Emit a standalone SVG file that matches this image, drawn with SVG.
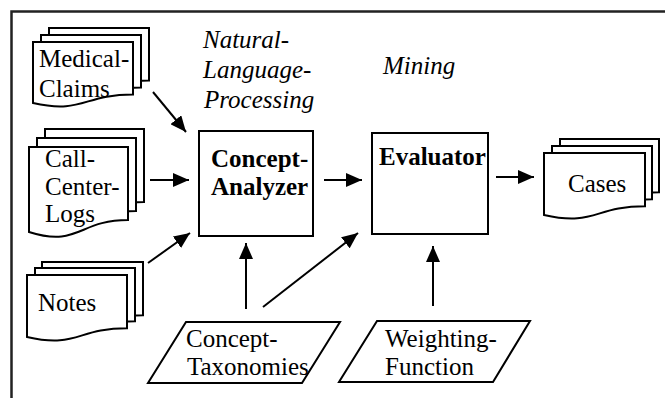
<svg xmlns="http://www.w3.org/2000/svg" width="665" height="398" viewBox="0 0 665 398">
<style>
.frame{fill:none;stroke:#222;stroke-width:2.5}
.shape{fill:#fff;stroke:#000;stroke-width:2}
.conn{fill:none;stroke:#000;stroke-width:2}
text{font-size:25px;fill:#000}
.b{font-weight:bold}
.i{font-style:italic}
</style>
<defs>
<marker id="ah" viewBox="0 0 16 14" refX="16" refY="7" markerWidth="16" markerHeight="14" markerUnits="userSpaceOnUse" orient="auto">
<path d="M0,0 L16,7 L0,14 Z" fill="#000"/>
</marker>
</defs>
<rect width="665" height="398" fill="#fff"/>
<path class="frame" d="M11.5,398 V11.5 H665"/>

<g font-family="'Liberation Serif', 'DejaVu Serif', serif">
<g id="medical-claims">
<path class="shape" d="M49,28 H149 V80.4 C99,80.4 99,100.3 49,89 Z"/>
<path class="shape" d="M41,35 H141 V87.4 C91,87.4 91,107.3 41,96 Z"/>
<path class="shape" d="M33,42 H133 V94.4 C83,94.4 83,114.3 33,103 Z"/>
<text x="39" y="67">Medical-</text>
<text x="39" y="97">Claims</text>
</g>

<g id="call-center-logs">
<path class="shape" d="M45,129 H144 V202 C94.5,202 94.5,229.7 45,214 Z"/>
<path class="shape" d="M37,138 H136 V211 C86.5,211 86.5,238.7 37,223 Z"/>
<path class="shape" d="M29,147 H128 V220 C78.5,220 78.5,247.7 29,232 Z"/>
<text x="45" y="167">Call-</text>
<text x="45" y="195">Center-</text>
<text x="45" y="222">Logs</text>
</g>

<g id="notes">
<path class="shape" d="M42,262 H143 V315.3 C92,315.3 92,335.5 42,324 Z"/>
<path class="shape" d="M35,268 H135 V321.3 C85,321.3 85,341.5 35,330 Z"/>
<path class="shape" d="M27,275 H127 V328.3 C77,328.3 77,348.5 27,337 Z"/>
<text x="38" y="311">Notes</text>
</g>

<g id="nlp-label">
<text class="i" x="203" y="48">Natural-</text>
<text class="i" x="203" y="78">Language-</text>
<text class="i" x="204" y="108">Processing</text>
</g>

<g id="mining-label">
<text class="i" x="383" y="74">Mining</text>
</g>

<g id="concept-analyzer">
<rect class="shape" x="199" y="131" width="114" height="105"/>
<text class="b" x="211" y="167">Concept-</text>
<text class="b" x="211" y="195">Analyzer</text>
</g>

<g id="evaluator">
<rect class="shape" x="372" y="133" width="116" height="101"/>
<text class="b" x="379" y="165">Evaluator</text>
</g>

<g id="cases">
<path class="shape" d="M560,139 H659 V192.3 C609.5,192.3 609.5,212.5 560,201 Z"/>
<path class="shape" d="M552,146 H652 V199.3 C602,199.3 602,219.5 552,208 Z"/>
<path class="shape" d="M544,153 H645 V206.3 C594.5,206.3 594.5,226.5 544,215 Z"/>
<text x="568" y="192">Cases</text>
</g>

<g id="concept-taxonomies">
<path class="shape" d="M186,322 H340 L302,383 H148 Z"/>
<text x="186" y="347">Concept-</text>
<text x="187" y="375">Taxonomies</text>
</g>

<g id="weighting-function">
<path class="shape" d="M377,321 H530 L493,382 H339 Z"/>
<text x="385" y="347">Weighting-</text>
<text x="385" y="375">Function</text>
</g>
</g>

<g id="connectors">
<line class="conn" x1="153" y1="92" x2="186" y2="132" marker-end="url(#ah)"/>
<line class="conn" x1="150" y1="180" x2="189" y2="180" marker-end="url(#ah)"/>
<line class="conn" x1="148" y1="263" x2="190" y2="233" marker-end="url(#ah)"/>
<line class="conn" x1="246" y1="309" x2="246" y2="243" marker-end="url(#ah)"/>
<line class="conn" x1="263" y1="307" x2="358" y2="233" marker-end="url(#ah)"/>
<line class="conn" x1="324" y1="180" x2="362" y2="180" marker-end="url(#ah)"/>
<line class="conn" x1="496" y1="177" x2="534" y2="177" marker-end="url(#ah)"/>
<line class="conn" x1="433" y1="306" x2="433" y2="246" marker-end="url(#ah)"/>
</g>
</svg>
